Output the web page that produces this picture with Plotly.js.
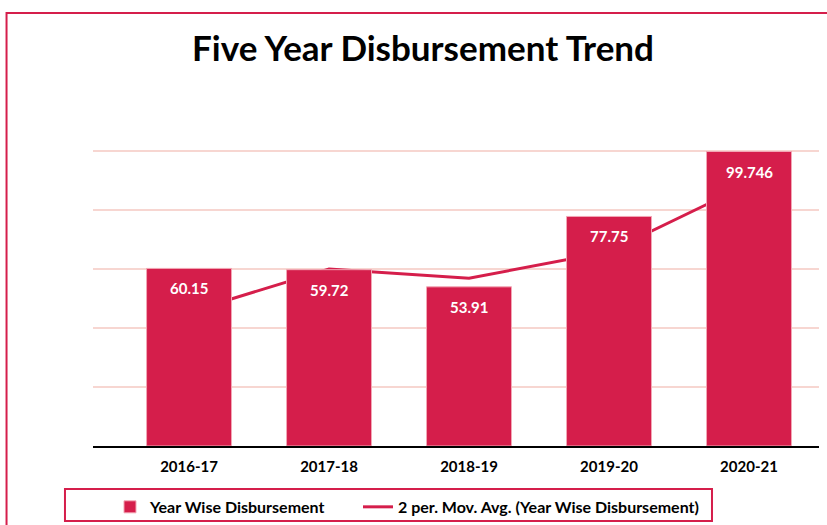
<!DOCTYPE html>
<html>
<head>
<meta charset="utf-8">
<script src="https://cdn.plot.ly/plotly-3.0.1.min.js"></script>
<style>
html,body{margin:0;padding:0;background:#fff;}
#chart{width:827px;height:525px;}
</style>
</head>
<body>
<div id="chart"></div>
<script>
// Data
const years = ["2016-17", "2017-18", "2018-19", "2019-20", "2020-21"];
const disbursement = [60.15, 59.72, 53.91, 77.75, 99.746];
const disbursementLabels = ["60.15", "59.72", "53.91", "77.75", "99.746"];
const movingAvg = [45.4, 59.94, 56.82, 65.83, 88.75];
const barName = "Year Wise Disbursement";
const lineName = "2 per. Mov. Avg. (Year Wise Disbursement)";

const RED = "#D51E4B";
const FONT = "Lato, 'DejaVu Sans', sans-serif";
const legendFont = {family: FONT, size: 16, color: "#000000", weight: "bold"};

const traces = [
  {
    type: "scatter",
    mode: "lines",
    x: years,
    y: movingAvg,
    name: lineName,
    legend: "legend2",
    line: {color: RED, width: 3},
    xaxis: "x",
    yaxis: "y",
    hoverinfo: "skip"
  },
  {
    type: "bar",
    x: years,
    y: disbursement,
    name: barName,
    legend: "legend",
    width: 0.607,
    marker: {color: RED, line: {color: "#F2A7B5", width: 1}},
    xaxis: "x",
    yaxis: "y2",
    hoverinfo: "skip"
  }
];

const annotations = years.map((yr, i) => ({
  x: yr,
  y: disbursement[i],
  xref: "x",
  yref: "y2",
  text: disbursementLabels[i],
  showarrow: false,
  yanchor: "middle",
  yshift: -20,
  font: {family: FONT, size: 15, color: "#ffffff", weight: "bold"}
}));

const layout = {
  width: 827,
  height: 525,
  margin: {l: 93, r: 8, t: 136, b: 79, autoexpand: false},
  paper_bgcolor: "#ffffff",
  plot_bgcolor: "#ffffff",
  showlegend: true,
  title: {
    text: "Five Year Disbursement Trend",
    x: 0.5115, xref: "container", xanchor: "center",
    y: 0.908, yref: "container", yanchor: "middle",
    font: {family: FONT, size: 35, color: "#000000", weight: "bold"}
  },
  xaxis: {
    type: "category",
    range: [-0.686, 4.5],
    showgrid: false,
    showline: true,
    linecolor: "#000000",
    linewidth: 2,
    ticks: "",
    ticklabelstandoff: 6,
    tickfont: {family: FONT, size: 15, color: "#000000", weight: "bold"},
    fixedrange: true
  },
  yaxis: {
    range: [0, 105],
    tickvals: [20, 40, 60, 80, 100],
    showticklabels: false,
    showgrid: true,
    gridcolor: "#F7D6D1",
    gridwidth: 2,
    zeroline: false,
    showline: false,
    fixedrange: true
  },
  yaxis2: {
    range: [0, 105],
    overlaying: "y",
    showticklabels: false,
    showgrid: false,
    zeroline: false,
    showline: false,
    fixedrange: true
  },
  legend: {
    orientation: "h",
    x: 0.0234, xanchor: "left",
    y: -0.1417, yanchor: "top",
    borderwidth: 0,
    bgcolor: "rgba(0,0,0,0)",
    font: legendFont
  },
  legend2: {
    orientation: "h",
    x: 0.365, xanchor: "left",
    y: -0.1417, yanchor: "top",
    borderwidth: 0,
    bgcolor: "rgba(0,0,0,0)",
    font: legendFont
  },
  shapes: [
    {
      type: "rect", xref: "paper", yref: "paper",
      x0: -0.1191, x1: 1.2, y0: 1.3968, y1: -0.5,
      line: {color: RED, width: 2},
      fillcolor: "rgba(0,0,0,0)",
      layer: "below"
    },
    {
      type: "rect", xref: "paper", yref: "paper",
      x0: -0.0386, x1: 0.8526, y0: -0.1387, y1: -0.2419,
      line: {color: RED, width: 2},
      fillcolor: "rgba(0,0,0,0)",
      layer: "below"
    }
  ],
  annotations: annotations
};

Plotly.newPlot("chart", traces, layout, {displayModeBar: false, staticPlot: true});
</script>
</body>
</html>
